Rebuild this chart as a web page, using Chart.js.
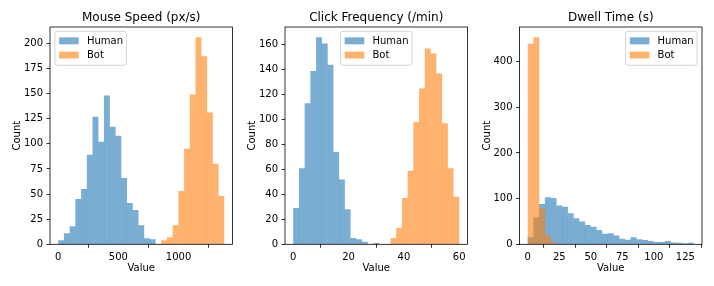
<!DOCTYPE html>
<html><head><meta charset="utf-8">
<script src="https://cdn.jsdelivr.net/npm/chart.js@4/dist/chart.umd.min.js"></script>
<style>
html,body{margin:0;padding:0;background:#fff;}
#wrap{position:relative;width:714px;height:286px;overflow:hidden;background:#fff;}
canvas{position:absolute;left:0;top:0;}
</style></head><body>
<div id="wrap">
<canvas id="c1" width="714" height="286"></canvas>
<canvas id="c2" width="714" height="286"></canvas>
<canvas id="c3" width="714" height="286"></canvas>
</div>
<script>
// ---------- data ----------
const seriesNames = ['Human', 'Bot'];
const panelTitles = ['Mouse Speed (px/s)', 'Click Frequency (/min)', 'Dwell Time (s)'];
const xAxisLabel = 'Value';
const yAxisLabel = 'Count';

// Mouse Speed: 29 equal bins between these edges
const mouseBinRange = [0, 1380];
const mouseHuman = [4,11,18,45,55,89,127,102,148,117,108,66,41,34,19,6,5,0,0,0,0,0,0,0,0,0,0,0,0];
const mouseBot   = [0,0,0,0,0,0,0,0,0,0,0,0,0,0,0,0,0,0,4,7,19,53,95,149,206,187,131,80,48];
const mouseXTicks = [0, 500, 1000];
const mouseYTicks = [0, 25, 50, 75, 100, 125, 150, 175, 200];

// Click Frequency: 29 equal bins
const clickBinRange = [0, 60];
const clickHuman = [29,61,113,139,166,161,144,74,52,28,5,4,2,0,1,0,0,0,0,0,0,0,0,0,0,0,0,0,0];
const clickBot   = [0,0,0,0,0,0,0,0,0,0,0,0,0,0,0,0,0,5,13,37,59,98,125,157,153,137,97,61,38];
const clickXTicks = [0, 20, 40, 60];
const clickYTicks = [0, 20, 40, 60, 80, 100, 120, 140, 160];

// Dwell Time: 29 equal bins
const dwellBinRange = [0, 131.6];
const dwellHuman = [15,59,88,103,101,85,82,68,57,50,42,38,31,23,24,19,12,10,15,11,9,7,5,5,7,4,3,2,3];
const dwellBot   = [439,453,79,20,5,0,0,0,0,0,0,0,0,0,0,0,0,0,0,0,0,0,0,0,0,0,0,0,0];
const dwellXTicks = [0, 25, 50, 75, 100, 125];
const dwellYTicks = [0, 100, 200, 300, 400];

// ---------- style / layout ----------
const HUMAN_COLOR = 'rgba(31,119,180,0.6)';
const BOT_COLOR = 'rgba(255,127,14,0.6)';
const FONT = '"DejaVu Sans", "Liberation Sans", sans-serif';
const AX_TOP = 27, AX_BOTTOM = 244.3;
const Y_W = 40;

const decor = {
  id: 'decor',
  afterDraw(chart, args, opts) {
    const ctx = chart.ctx;
    const a = chart.chartArea;
    ctx.save();
    // frame
    ctx.strokeStyle = '#000';
    ctx.lineWidth = 0.8;
    ctx.strokeRect(a.left, a.top, a.right - a.left, a.bottom - a.top);
    // title
    ctx.fillStyle = '#000';
    ctx.font = '12px ' + FONT;
    ctx.textAlign = 'center';
    ctx.textBaseline = 'alphabetic';
    const cx = (a.left + a.right) / 2;
    ctx.fillText(opts.title, cx, 20.5);
    // x label
    ctx.font = '10px ' + FONT;
    ctx.fillText(xAxisLabel, cx, 271);
    // y label
    ctx.save();
    ctx.translate(a.left - 29.7, (a.top + a.bottom) / 2);
    ctx.rotate(-Math.PI / 2);
    ctx.fillText(yAxisLabel, 0, 0);
    ctx.restore();
    // legend
    const lw = 71.5, lh = 34;
    let lx;
    if (opts.legend === 'left') lx = a.left + 4.9;
    else if (opts.legend === 'center') lx = cx - lw / 2;
    else lx = a.right - 4.9 - lw;
    const ly = a.top + 4.3;
    ctx.beginPath();
    if (ctx.roundRect) ctx.roundRect(lx, ly, lw, lh, 2.5); else ctx.rect(lx, ly, lw, lh);
    ctx.fillStyle = 'rgba(255,255,255,0.8)';
    ctx.fill();
    ctx.strokeStyle = 'rgba(204,204,204,0.8)';
    ctx.lineWidth = 1;
    ctx.stroke();
    const colors = [HUMAN_COLOR, BOT_COLOR];
    ctx.textAlign = 'left';
    ctx.textBaseline = 'middle';
    ctx.font = '10px ' + FONT;
    for (let i = 0; i < 2; i++) {
      const rowY = ly + 9.5 + i * 14.2;
      ctx.fillStyle = colors[i];
      ctx.fillRect(lx + 4.2, rowY - 3.4, 19.6, 6.9);
      ctx.fillStyle = '#000';
      ctx.fillText(seriesNames[i], lx + 32, rowY + 0.5);
    }
    ctx.restore();
  }
};

function makeChart(id, left, right, title, legendPos, range, human, bot, xTicks, yTicks) {
  const n = human.length;
  const w = (range[1] - range[0]) / n;
  const centers = human.map((_, i) => range[0] + (i + 0.5) * w);
  const span = range[1] - range[0];
  const xMin = range[0] - 0.05 * span, xMax = range[1] + 0.05 * span;
  const yMax = 1.05 * Math.max(...human, ...bot);
  const barPx = w * (right - left) / (xMax - xMin);
  const tickFont = {family: FONT, size: 10};
  return new Chart(document.getElementById(id), {
    type: 'bar',
    data: {
      datasets: [
        {label: seriesNames[0], data: centers.map((x, i) => ({x, y: human[i]})), backgroundColor: HUMAN_COLOR, order: 2},
        {label: seriesNames[1], data: centers.map((x, i) => ({x, y: bot[i]})), backgroundColor: BOT_COLOR, order: 1}
      ]
    },
    options: {
      responsive: false, animation: false, devicePixelRatio: 1,
      datasets: {bar: {grouped: false, barThickness: barPx, borderWidth: 0, inflateAmount: 0.08}},
      layout: {padding: {left: left - Y_W, right: 714 - right, top: AX_TOP, bottom: 0}},
      scales: {
        x: {
          type: 'linear', min: xMin, max: xMax, offset: false,
          grid: {display: true, drawOnChartArea: false, drawTicks: true, tickLength: 3.5, tickWidth: 0.8, tickColor: '#000'},
          border: {display: false},
          ticks: {font: tickFont, color: '#000', padding: 3.5, maxRotation: 0, autoSkip: false, callback: v => String(v)},
          afterBuildTicks(s) { s.ticks = xTicks.map(v => ({value: v})); },
          afterFit(s) { s.height = 286 - AX_BOTTOM; }
        },
        y: {
          type: 'linear', min: 0, max: yMax,
          grid: {display: true, drawOnChartArea: false, drawTicks: true, tickLength: 3.5, tickWidth: 0.8, tickColor: '#000'},
          border: {display: false},
          ticks: {font: tickFont, color: '#000', padding: 3.5, autoSkip: false, callback: v => String(v)},
          afterBuildTicks(s) { s.ticks = yTicks.map(v => ({value: v})); },
          afterFit(s) { s.width = Y_W; }
        }
      },
      plugins: {legend: {display: false}, tooltip: {enabled: false}, decor: {title, legend: legendPos}}
    },
    plugins: [decor]
  });
}

makeChart('c1', 50, 232.5, panelTitles[0], 'left', mouseBinRange, mouseHuman, mouseBot, mouseXTicks, mouseYTicks);
makeChart('c2', 285, 467.5, panelTitles[1], 'center', clickBinRange, clickHuman, clickBot, clickXTicks, clickYTicks);
makeChart('c3', 519.5, 702, panelTitles[2], 'right', dwellBinRange, dwellHuman, dwellBot, dwellXTicks, dwellYTicks);
</script>
</body></html>
